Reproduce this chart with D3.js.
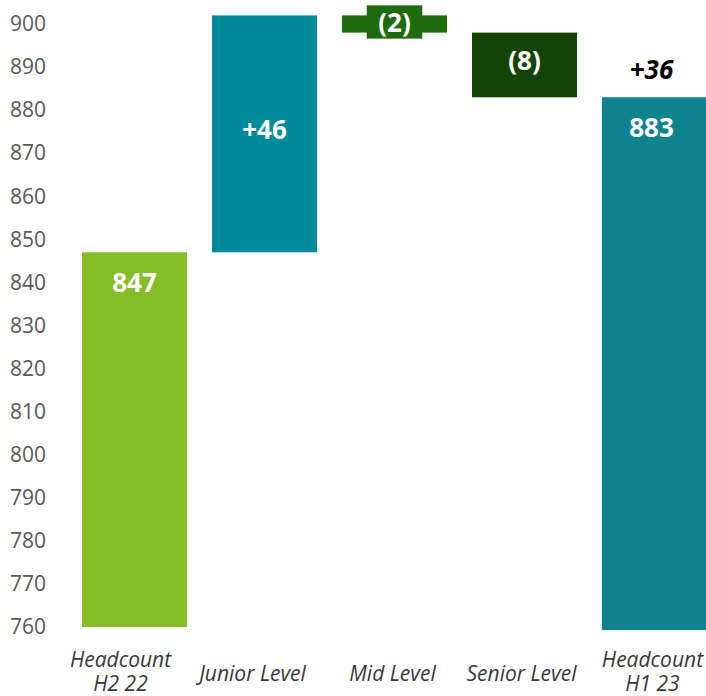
<!DOCTYPE html>
<html>
<head>
<meta charset="utf-8">
<script src="https://cdn.jsdelivr.net/npm/d3@7"></script>
<style>
  html, body { margin: 0; padding: 0; background: #fff; }
  svg { display: block; font-family: "Open Sans", "Noto Sans", sans-serif; }
</style>
</head>
<body>
<svg id="chart" width="706" height="696"></svg>
<script>
// ---- data ----
const categories = ["Headcount\nH2 22", "Junior Level", "Mid Level", "Senior Level", "Headcount\nH1 23"];
const barStart   = [760, 847, 902, 898, 759.3];
const barEnd     = [847, 902, 898, 883, 883];
const valueLabels = ["847", "+46", "(2)", "(8)", "883"];
const barKinds   = ["total", "delta", "delta", "delta", "total"];
const barColors  = ["#86BC25", "#008A9D", "#1E6A0D", "#134406", "#0D838F"];
const totalChangeLabel = "+36";
const yTicks = [760, 770, 780, 790, 800, 810, 820, 830, 840, 850, 860, 870, 880, 890, 900];

// ---- layout ----
const svg = d3.select("#chart");
const x = d3.scaleBand().domain(categories).range([82, 707]).paddingInner(0.192).paddingOuter(0);
const y = d3.scaleLinear().domain([760, 900]).range([627, 24]);
const catLabelDx = [-14, -12, -2, -3, -2];

// y axis (labels only)
const yAxis = svg.append("g")
  .attr("transform", "translate(46,0)")
  .call(d3.axisLeft(y).tickValues(yTicks).tickSize(0).tickPadding(0).tickFormat(d3.format("d")));
yAxis.select(".domain").remove();
yAxis.selectAll("text")
  .attr("fill", "#595959")
  .style("font-size", "21px")
  .style("font-family", "'Open Sans', sans-serif");

const rows = categories.map((c, i) => ({
  cat: c, start: barStart[i], end: barEnd[i], label: valueLabels[i], kind: barKinds[i], color: barColors[i]
}));

// bars
svg.append("g").selectAll("rect").data(rows).join("rect")
  .attr("x", d => x(d.cat))
  .attr("width", x.bandwidth())
  .attr("y", d => y(Math.max(d.start, d.end)))
  .attr("height", d => Math.abs(y(d.start) - y(d.end)))
  .attr("fill", d => d.color);

// value labels
const lg = svg.append("g");
rows.forEach((d, i) => {
  const cx = x(d.cat) + x.bandwidth() / 2 - (d.kind === "total" && i > 0 ? 3 : 0);
  const top = y(Math.max(d.start, d.end));
  const bot = y(Math.min(d.start, d.end));
  const small = (bot - top) < 25;
  const fs = 26;
  let ly;
  if (d.kind === "total") ly = top + 40;
  else if (small) ly = (top + bot) / 2 + 8;
  else ly = (top + bot) / 2 + fs * 0.36 - 4;
  const g = lg.append("g");
  const t = g.append("text")
    .attr("x", cx).attr("y", ly)
    .attr("text-anchor", "middle")
    .attr("fill", "#fff")
    .style("font-weight", "700")
    .style("font-size", fs + "px")
    .text(d.label);
  if (small) {
    const bb = t.node().getBBox();
    g.insert("rect", "text")
      .attr("x", bb.x - 11.5).attr("y", top - 10)
      .attr("width", bb.width + 23).attr("height", (bot - top) + 16)
      .attr("fill", d.color);
  }
});

// total change label above final bar
const last = rows[rows.length - 1];
svg.append("text")
  .attr("x", x(last.cat) + x.bandwidth() / 2 - 3)
  .attr("y", y(last.end) - 18)
  .attr("text-anchor", "middle")
  .attr("fill", "#000")
  .style("font-weight", "700")
  .style("font-style", "italic")
  .style("font-size", "26px")
  .text(totalChangeLabel);

// category labels
const cg = svg.append("g");
categories.forEach((c, i) => {
  const lines = c.split("\n");
  const cx = x(c) + x.bandwidth() / 2 + catLabelDx[i];
  const t = cg.append("text")
    .attr("text-anchor", "middle")
    .attr("fill", "#3a3a3a")
    .style("font-style", "italic")
    .style("font-size", "21px");
  const base = lines.length === 1 ? 681 : 667;
  lines.forEach((ln, j) => {
    t.append("tspan").attr("x", cx).attr("y", base + j * 24).text(ln);
  });
});
</script>
</body>
</html>
